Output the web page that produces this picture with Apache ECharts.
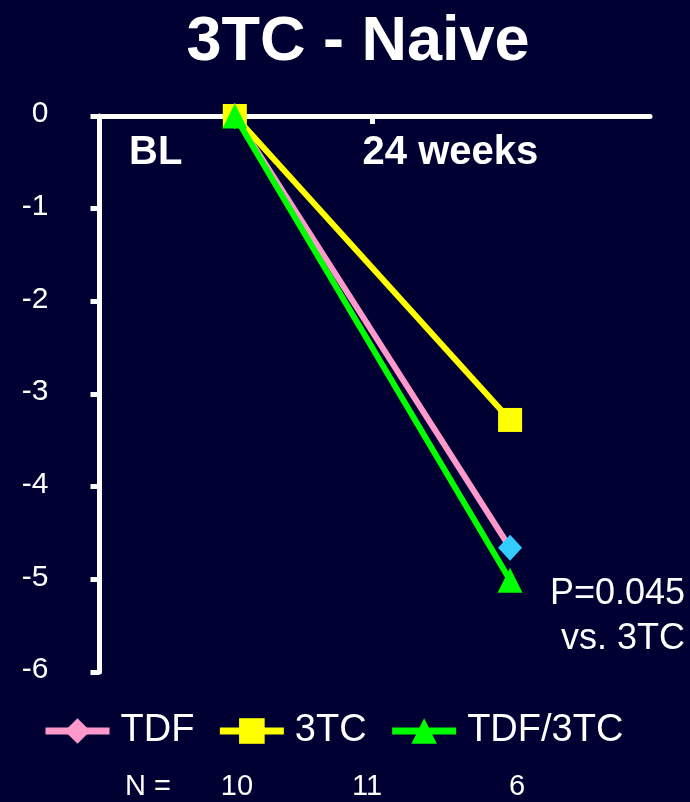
<!DOCTYPE html>
<html>
<head>
<meta charset="utf-8">
<script src="https://cdn.jsdelivr.net/npm/echarts@6/dist/echarts.min.js"></script>
<style>
  html, body { margin: 0; padding: 0; background: #000033; }
  #chart { width: 690px; height: 802px; }
</style>
</head>
<body>
<div id="chart"></div>
<script>
// 数据 (weeks, change from baseline)
var weeks = [0, 24];
var tdfValues = [0, -4.66];
var lamValues = [0, -3.28];
var comboValues = [0, -5.01];
var seriesNames = ['TDF', '3TC', 'TDF/3TC'];
var xLabelValues = [-6.9, 18.8];
var xLabelTexts = ['BL', '24 weeks'];
var nLabels = ['N =', '10', '11', '6'];
var nPositions = [148, 237, 367, 517];
var pText = ['P=0.045', 'vs. 3TC'];

var font = 'Liberation Sans, Arial, sans-serif';

function pairs(vals) {
    return weeks.map(function (w, i) { return [w, vals[i]]; });
}

var tdfData = pairs(tdfValues);
// last TDF point drawn in light blue
tdfData[1] = { value: tdfData[1], itemStyle: { color: '#33ccff' } };

var chart = echarts.init(document.getElementById('chart'));

var graphics = nLabels.map(function (t, i) {
    return {
        type: 'text', x: nPositions[i], y: 787,
        style: { text: t, fill: '#fff', font: '29px ' + font, align: 'center', verticalAlign: 'middle' }
    };
});
graphics.push({
    type: 'text', x: 685, y: 617,
    style: {
        text: pText.join('\n'), fill: '#fff', font: '36px ' + font,
        align: 'right', verticalAlign: 'middle', lineHeight: 45
    }
});

chart.setOption({
    backgroundColor: '#000033',
    animation: false,
    title: {
        text: '3TC - Naive', left: 353, top: 6, textAlign: 'center',
        textStyle: { color: '#fff', fontSize: 63, fontWeight: 'bold', fontFamily: font }
    },
    legend: {
        data: seriesNames,
        left: 42, top: 712, padding: 0,
        itemWidth: 64, itemHeight: 32, itemGap: 22,
        lineStyle: { width: 7 },
        textStyle: { color: '#fff', fontSize: 38, fontFamily: font, padding: [0, 0, 0, 6] }
    },
    grid: { left: 99.5, right: 40, top: 116, bottom: 130 },
    xAxis: {
        type: 'value', position: 'top', min: -11.8, max: 36.2,
        axisLine: { onZero: false, lineStyle: { color: '#fff', width: 5 } },
        axisTick: { show: true, inside: true, length: 8, lineStyle: { color: '#fff', width: 5 }, customValues: [12] },
        axisLabel: {
            inside: true, margin: 17, color: '#fff', fontSize: 40, fontWeight: 'bold', fontFamily: font,
            customValues: xLabelValues,
            formatter: function (v) {
                var i = xLabelValues.indexOf(v);
                return i >= 0 ? xLabelTexts[i] : '';
            }
        },
        splitLine: { show: false }
    },
    yAxis: {
        type: 'value', min: -6, max: 0, interval: 1,
        axisLine: { show: true, onZero: false, lineStyle: { color: '#fff', width: 5 } },
        axisTick: { show: true, length: 9, lineStyle: { color: '#fff', width: 5 } },
        axisLabel: {
            margin: 51, color: '#fff', fontSize: 30, fontFamily: font,
            verticalAlign: 'bottom', lineHeight: 4
        },
        splitLine: { show: false }
    },
    series: [
        {
            name: seriesNames[0], type: 'line', data: tdfData,
            symbol: 'diamond', symbolSize: [24, 26],
            itemStyle: { color: '#ff99cc' }, lineStyle: { color: '#ff99cc', width: 6 }
        },
        {
            name: seriesNames[1], type: 'line', data: pairs(lamValues),
            symbol: 'rect', symbolSize: 24,
            itemStyle: { color: '#ffff00' }, lineStyle: { color: '#ffff00', width: 6 }
        },
        {
            name: seriesNames[2], type: 'line', data: pairs(comboValues),
            symbol: 'triangle', symbolSize: 25,
            itemStyle: { color: '#00ff00' }, lineStyle: { color: '#00ff00', width: 6 }
        }
    ],
    graphic: graphics
});
</script>
</body>
</html>
